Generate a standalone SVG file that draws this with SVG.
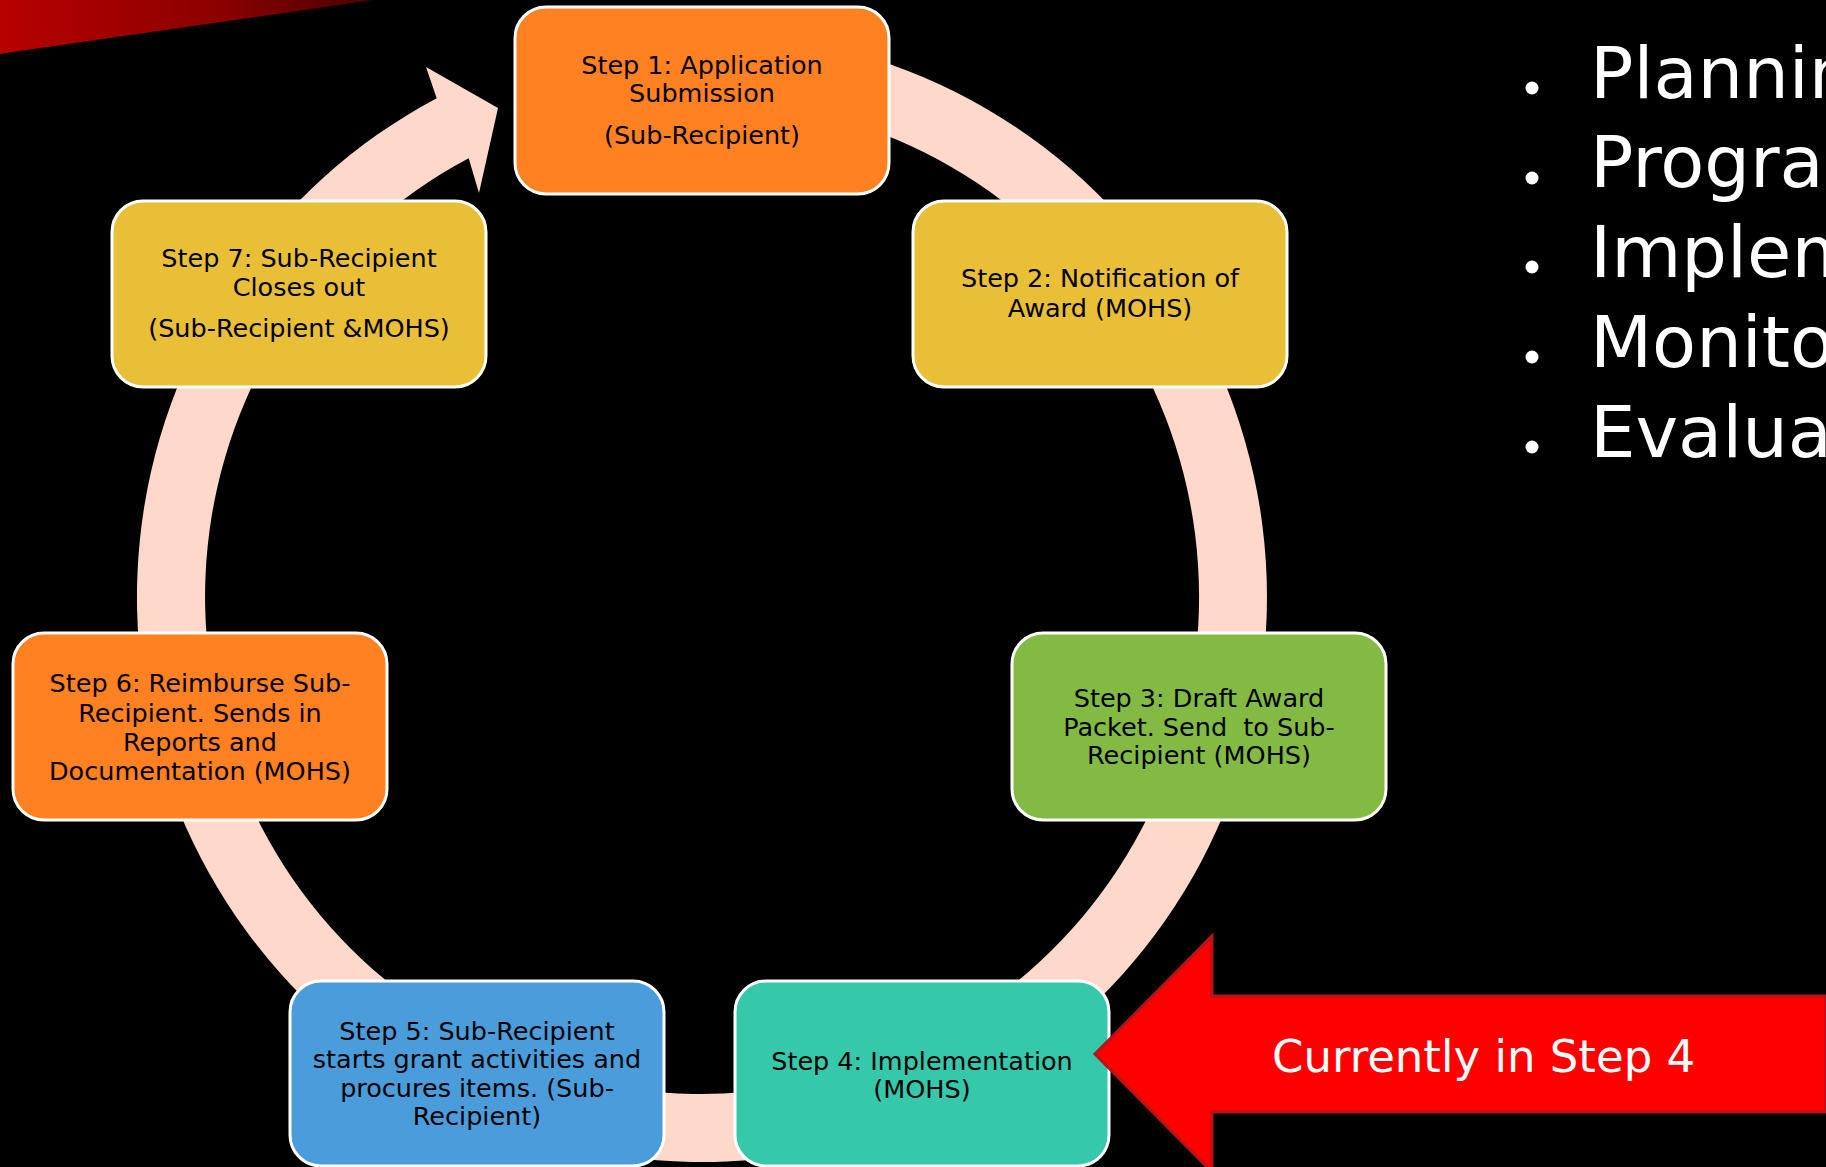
<svg xmlns="http://www.w3.org/2000/svg" width="1826" height="1167" viewBox="0 0 1826 1167">
  <defs>
    <linearGradient id="swoosh" x1="0" y1="0" x2="1" y2="0">
      <stop offset="0" stop-color="#b80000"/>
      <stop offset="0.6" stop-color="#8a0000"/>
      <stop offset="1" stop-color="#4a0000"/>
    </linearGradient>
    <style>
      .box { stroke: #ffffff; stroke-width: 3; }
      .lbl { font-family: "DejaVu Sans", "Liberation Sans", sans-serif; font-size: 25.5px; fill: #000000; text-anchor: middle; }
      .big { font-family: "DejaVu Sans", "Liberation Sans", sans-serif; fill: #ffffff; }
      .ring { fill: #fed8cb; }
    </style>
  </defs>

  <rect x="0" y="0" width="1826" height="1167" fill="#000000"/>
  <path d="M0,0 L372,0 C280,14 150,32 0,54 Z" fill="url(#swoosh)"/>

  <g id="connectors">
    <path class="ring" d="M652.8,34.2 A565,565 0 1 1 436.7,98.2 L426,67 L498,108 L479,193 L468.7,158.2 A497,497 0 1 0 658.7,101.9 Z"/>
  </g>

  <g id="step1">
    <rect class="box" x="515" y="7" width="374" height="187" rx="31" fill="#ff8121"/>
    <text class="lbl" x="702" y="74">Step 1: Application</text>
    <text class="lbl" x="702" y="102">Submission</text>
    <text class="lbl" x="702" y="144">(Sub-Recipient)</text>
  </g>

  <g id="step2">
    <rect class="box" x="913" y="201" width="374" height="186" rx="31" fill="#e8bf37"/>
    <text class="lbl" x="1100" y="287">Step 2: Notification of</text>
    <text class="lbl" x="1100" y="317">Award (MOHS)</text>
  </g>

  <g id="step3">
    <rect class="box" x="1012" y="633" width="374" height="187" rx="31" fill="#83ba44"/>
    <text class="lbl" x="1199" y="707">Step 3: Draft Award</text>
    <text class="lbl" x="1199" y="736" style="white-space:pre" xml:space="preserve">Packet. Send  to Sub-</text>
    <text class="lbl" x="1199" y="764">Recipient (MOHS)</text>
  </g>

  <g id="step4">
    <rect class="box" x="735" y="981" width="374" height="185" rx="31" fill="#35c8aa"/>
    <text class="lbl" x="922" y="1070">Step 4: Implementation</text>
    <text class="lbl" x="922" y="1098">(MOHS)</text>
  </g>

  <g id="step5">
    <rect class="box" x="290" y="981" width="374" height="185" rx="31" fill="#4b9cda"/>
    <text class="lbl" x="477" y="1040">Step 5: Sub-Recipient</text>
    <text class="lbl" x="477" y="1068">starts grant activities and</text>
    <text class="lbl" x="477" y="1097">procures items. (Sub-</text>
    <text class="lbl" x="477" y="1125">Recipient)</text>
  </g>

  <g id="step6">
    <rect class="box" x="13" y="633" width="374" height="187" rx="31" fill="#ff8121"/>
    <text class="lbl" x="200" y="692">Step 6: Reimburse Sub-</text>
    <text class="lbl" x="200" y="722">Recipient. Sends in</text>
    <text class="lbl" x="200" y="751">Reports and</text>
    <text class="lbl" x="200" y="780">Documentation (MOHS)</text>
  </g>

  <g id="step7">
    <rect class="box" x="112" y="201" width="374" height="186" rx="31" fill="#e8bf37"/>
    <text class="lbl" x="299" y="267">Step 7: Sub-Recipient</text>
    <text class="lbl" x="299" y="296">Closes out</text>
    <text class="lbl" x="299" y="337">(Sub-Recipient &amp;MOHS)</text>
  </g>

  <g id="current-arrow">
    <polygon points="1826,996 1212,996 1212,936 1095,1054 1212,1172 1212,1112 1826,1112" fill="#ff0000" stroke="#b4141a" stroke-width="3"/>
    <text class="big" x="1272" y="1072" font-size="45">Currently in Step 4</text>
  </g>

  <g id="bullets">
    <circle cx="1532" cy="88" r="6.5" fill="#ffffff"/>
    <circle cx="1532" cy="178" r="6.5" fill="#ffffff"/>
    <circle cx="1532" cy="267" r="6.5" fill="#ffffff"/>
    <circle cx="1532" cy="357" r="6.5" fill="#ffffff"/>
    <circle cx="1532" cy="447" r="6.5" fill="#ffffff"/>
    <text class="big" x="1590" y="98" font-size="72">Plannin</text>
    <text class="big" x="1590" y="187" font-size="72">Progra</text>
    <text class="big" x="1590" y="277" font-size="72">Implem</text>
    <text class="big" x="1590" y="367" font-size="72">Monito</text>
    <text class="big" x="1590" y="457" font-size="72">Evalua</text>
  </g>
</svg>
